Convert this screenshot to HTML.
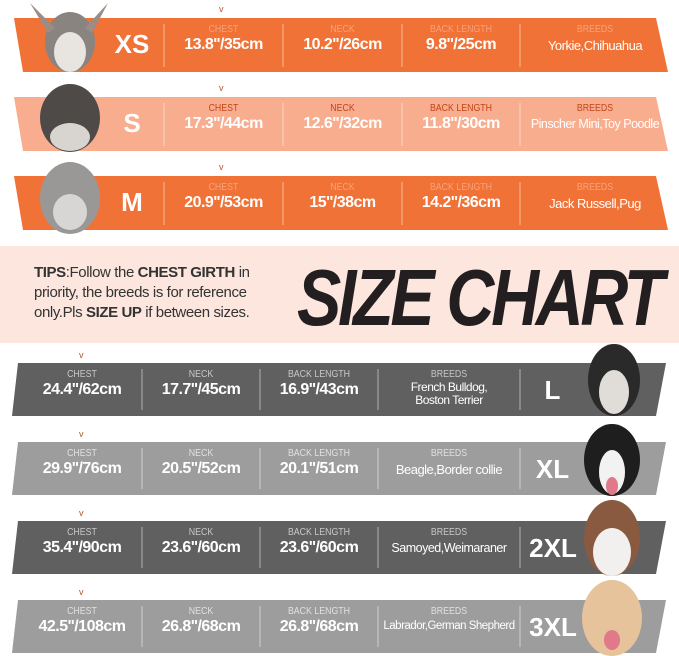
<!DOCTYPE html>
<html><head><meta charset="utf-8"><style>
html,body{margin:0;padding:0;background:#fff;}
body{width:679px;height:656px;position:relative;overflow:hidden;font-family:"Liberation Sans",sans-serif;}
.a{position:absolute;text-align:center;white-space:nowrap;}
.lab{font-size:10px;transform:scaleX(.88);}
.val{font-size:16px;font-weight:bold;color:#fff;letter-spacing:-0.5px;}
.br{font-size:12px;color:#fff;letter-spacing:-0.5px;}
.sz{font-size:26px;font-weight:bold;color:#fff;}
.v{position:absolute;font-size:9px;color:#b4532a;}
</style></head><body>
<svg width="679" height="656" style="position:absolute;left:0;top:0">
<polygon points="14,18 656,18 668,72 23,72" fill="#f07236"/>
<polygon points="14,97 656,97 668,151 23,151" fill="#f9ad8f"/>
<polygon points="14,176 656,176 668,230 23,230" fill="#f07236"/>
<rect x="0" y="246" width="679" height="97" fill="#fce6dd"/>
<polygon points="18,363 666,363 656,416 12,416" fill="#606060"/>
<polygon points="18,442 666,442 656,495 12,495" fill="#9d9d9d"/>
<polygon points="18,521 666,521 656,574 12,574" fill="#606060"/>
<polygon points="18,600 666,600 656,653 12,653" fill="#9d9d9d"/>
<g stroke="#fff" stroke-opacity=".5" stroke-width="1">
<line x1="164" y1="24" x2="164" y2="67"/><line x1="283" y1="24" x2="283" y2="67"/><line x1="402" y1="24" x2="402" y2="67"/><line x1="520" y1="24" x2="520" y2="67"/>
<line x1="164" y1="103" x2="164" y2="146"/><line x1="283" y1="103" x2="283" y2="146"/><line x1="402" y1="103" x2="402" y2="146"/><line x1="520" y1="103" x2="520" y2="146"/>
<line x1="164" y1="182" x2="164" y2="225"/><line x1="283" y1="182" x2="283" y2="225"/><line x1="402" y1="182" x2="402" y2="225"/><line x1="520" y1="182" x2="520" y2="225"/>
<line x1="142" y1="369" x2="142" y2="410"/><line x1="260" y1="369" x2="260" y2="410"/><line x1="378" y1="369" x2="378" y2="410"/><line x1="520" y1="369" x2="520" y2="410"/>
<line x1="142" y1="448" x2="142" y2="489"/><line x1="260" y1="448" x2="260" y2="489"/><line x1="378" y1="448" x2="378" y2="489"/><line x1="520" y1="448" x2="520" y2="489"/>
<line x1="142" y1="527" x2="142" y2="568"/><line x1="260" y1="527" x2="260" y2="568"/><line x1="378" y1="527" x2="378" y2="568"/><line x1="520" y1="527" x2="520" y2="568"/>
<line x1="142" y1="606" x2="142" y2="647"/><line x1="260" y1="606" x2="260" y2="647"/><line x1="378" y1="606" x2="378" y2="647"/><line x1="520" y1="606" x2="520" y2="647"/>
</g>
<g>
<ellipse cx="70" cy="42" rx="25" ry="30" fill="#8a8480"/><ellipse cx="70" cy="52" rx="16" ry="20" fill="#e8e4e0"/><polygon points="30,3 55,28 48,33" fill="#9a8c86"/><polygon points="108,3 85,28 92,33" fill="#9a8c86"/>
<ellipse cx="70" cy="118" rx="30" ry="34" fill="#4e4a48"/><ellipse cx="70" cy="137" rx="20" ry="14" fill="#d8d4d0"/>
<ellipse cx="70" cy="198" rx="30" ry="36" fill="#9a9896"/><ellipse cx="70" cy="212" rx="17" ry="18" fill="#d8d6d4"/>
<ellipse cx="614" cy="380" rx="26" ry="36" fill="#2a2a2a"/><ellipse cx="614" cy="392" rx="15" ry="22" fill="#e0dcd8"/>
<ellipse cx="612" cy="460" rx="28" ry="36" fill="#1e1e1e"/><ellipse cx="612" cy="472" rx="13" ry="22" fill="#f2f2f2"/><ellipse cx="612" cy="486" rx="6" ry="9" fill="#e07a8a"/>
<ellipse cx="612" cy="538" rx="28" ry="38" fill="#8a5a40"/><ellipse cx="612" cy="552" rx="19" ry="24" fill="#f2f0ee"/>
<ellipse cx="612" cy="618" rx="30" ry="38" fill="#e6c39a"/><ellipse cx="612" cy="640" rx="8" ry="10" fill="#e07a8a"/>
</g>
</svg>

<div class="v" style="left:219px;top:4px">v</div>
<div class="v" style="left:219px;top:83px">v</div>
<div class="v" style="left:219px;top:162px">v</div>
<div class="v" style="left:79px;top:350px">v</div>
<div class="v" style="left:79px;top:429px">v</div>
<div class="v" style="left:79px;top:508px">v</div>
<div class="v" style="left:79px;top:587px">v</div>

<div class="a sz" style="left:100px;width:64px;top:29px">XS</div>
<div class="a lab" style="left:164px;width:119px;top:24px;color:#f8a27a">CHEST</div>
<div class="a val" style="left:164px;width:119px;top:36px">13.8''/35cm</div>
<div class="a lab" style="left:283px;width:119px;top:24px;color:#f8a27a">NECK</div>
<div class="a val" style="left:283px;width:119px;top:36px">10.2''/26cm</div>
<div class="a lab" style="left:402px;width:118px;top:24px;color:#f8a27a">BACK LENGTH</div>
<div class="a val" style="left:402px;width:118px;top:36px">9.8''/25cm</div>
<div class="a lab" style="left:520px;width:150px;top:24px;color:#f8a27a">BREEDS</div>
<div class="a br" style="left:520px;width:150px;top:38px;font-size:13px">Yorkie,Chihuahua</div>

<div class="a sz" style="left:100px;width:64px;top:108px">S</div>
<div class="a lab" style="left:164px;width:119px;top:103px;color:#c0451a">CHEST</div>
<div class="a val" style="left:164px;width:119px;top:115px">17.3''/44cm</div>
<div class="a lab" style="left:283px;width:119px;top:103px;color:#c0451a">NECK</div>
<div class="a val" style="left:283px;width:119px;top:115px">12.6''/32cm</div>
<div class="a lab" style="left:402px;width:118px;top:103px;color:#c0451a">BACK LENGTH</div>
<div class="a val" style="left:402px;width:118px;top:115px">11.8''/30cm</div>
<div class="a lab" style="left:520px;width:150px;top:103px;color:#c0451a">BREEDS</div>
<div class="a br" style="left:520px;width:150px;top:117px;font-size:12.5px">Pinscher Mini,Toy Poodle</div>

<div class="a sz" style="left:100px;width:64px;top:187px">M</div>
<div class="a lab" style="left:164px;width:119px;top:182px;color:#f8a27a">CHEST</div>
<div class="a val" style="left:164px;width:119px;top:194px">20.9''/53cm</div>
<div class="a lab" style="left:283px;width:119px;top:182px;color:#f8a27a">NECK</div>
<div class="a val" style="left:283px;width:119px;top:194px">15''/38cm</div>
<div class="a lab" style="left:402px;width:118px;top:182px;color:#f8a27a">BACK LENGTH</div>
<div class="a val" style="left:402px;width:118px;top:194px">14.2''/36cm</div>
<div class="a lab" style="left:520px;width:150px;top:182px;color:#f8a27a">BREEDS</div>
<div class="a br" style="left:520px;width:150px;top:196px;font-size:13px">Jack Russell,Pug</div>

<div style="position:absolute;left:34px;top:263px;font-size:15px;line-height:20px;color:#333;letter-spacing:-0.4px;white-space:nowrap"><b>TIPS</b>:Follow the <b>CHEST GIRTH</b> in<br>priority, the breeds is for reference<br>only.Pls <b>SIZE UP</b> if between sizes.</div>
<div style="position:absolute;left:297px;top:252px;font-size:80px;font-weight:bold;font-style:italic;color:#231f20;letter-spacing:-4px;white-space:nowrap;transform:scaleX(.83);transform-origin:0 0">SIZE CHART</div>

<div class="a lab" style="left:22px;width:120px;top:369px;color:#c8c8c8">CHEST</div>
<div class="a val" style="left:22px;width:120px;top:381px">24.4''/62cm</div>
<div class="a lab" style="left:142px;width:118px;top:369px;color:#c8c8c8">NECK</div>
<div class="a val" style="left:142px;width:118px;top:381px">17.7''/45cm</div>
<div class="a lab" style="left:260px;width:118px;top:369px;color:#c8c8c8">BACK LENGTH</div>
<div class="a val" style="left:260px;width:118px;top:381px">16.9''/43cm</div>
<div class="a lab" style="left:378px;width:142px;top:369px;color:#c8c8c8">BREEDS</div>
<div class="a br" style="left:378px;width:142px;top:381px;line-height:13px">French Bulldog,<br>Boston Terrier</div>
<div class="a sz" style="left:525px;width:55px;top:375px">L</div>

<div class="a lab" style="left:22px;width:120px;top:448px;color:#e0e0e0">CHEST</div>
<div class="a val" style="left:22px;width:120px;top:460px">29.9''/76cm</div>
<div class="a lab" style="left:142px;width:118px;top:448px;color:#e0e0e0">NECK</div>
<div class="a val" style="left:142px;width:118px;top:460px">20.5''/52cm</div>
<div class="a lab" style="left:260px;width:118px;top:448px;color:#e0e0e0">BACK LENGTH</div>
<div class="a val" style="left:260px;width:118px;top:460px">20.1''/51cm</div>
<div class="a lab" style="left:378px;width:142px;top:448px;color:#e0e0e0">BREEDS</div>
<div class="a br" style="left:378px;width:142px;top:462px;font-size:13px">Beagle,Border collie</div>
<div class="a sz" style="left:525px;width:55px;top:454px">XL</div>

<div class="a lab" style="left:22px;width:120px;top:527px;color:#c8c8c8">CHEST</div>
<div class="a val" style="left:22px;width:120px;top:539px">35.4''/90cm</div>
<div class="a lab" style="left:142px;width:118px;top:527px;color:#c8c8c8">NECK</div>
<div class="a val" style="left:142px;width:118px;top:539px">23.6''/60cm</div>
<div class="a lab" style="left:260px;width:118px;top:527px;color:#c8c8c8">BACK LENGTH</div>
<div class="a val" style="left:260px;width:118px;top:539px">23.6''/60cm</div>
<div class="a lab" style="left:378px;width:142px;top:527px;color:#c8c8c8">BREEDS</div>
<div class="a br" style="left:378px;width:142px;top:541px;font-size:12.5px">Samoyed,Weimaraner</div>
<div class="a sz" style="left:522px;width:62px;top:533px">2XL</div>

<div class="a lab" style="left:22px;width:120px;top:606px;color:#e0e0e0">CHEST</div>
<div class="a val" style="left:22px;width:120px;top:618px">42.5''/108cm</div>
<div class="a lab" style="left:142px;width:118px;top:606px;color:#e0e0e0">NECK</div>
<div class="a val" style="left:142px;width:118px;top:618px">26.8''/68cm</div>
<div class="a lab" style="left:260px;width:118px;top:606px;color:#e0e0e0">BACK LENGTH</div>
<div class="a val" style="left:260px;width:118px;top:618px">26.8''/68cm</div>
<div class="a lab" style="left:378px;width:142px;top:606px;color:#e0e0e0">BREEDS</div>
<div class="a br" style="left:378px;width:142px;top:620px;font-size:11.5px">Labrador,German Shepherd</div>
<div class="a sz" style="left:522px;width:62px;top:612px">3XL</div>
</body></html>
